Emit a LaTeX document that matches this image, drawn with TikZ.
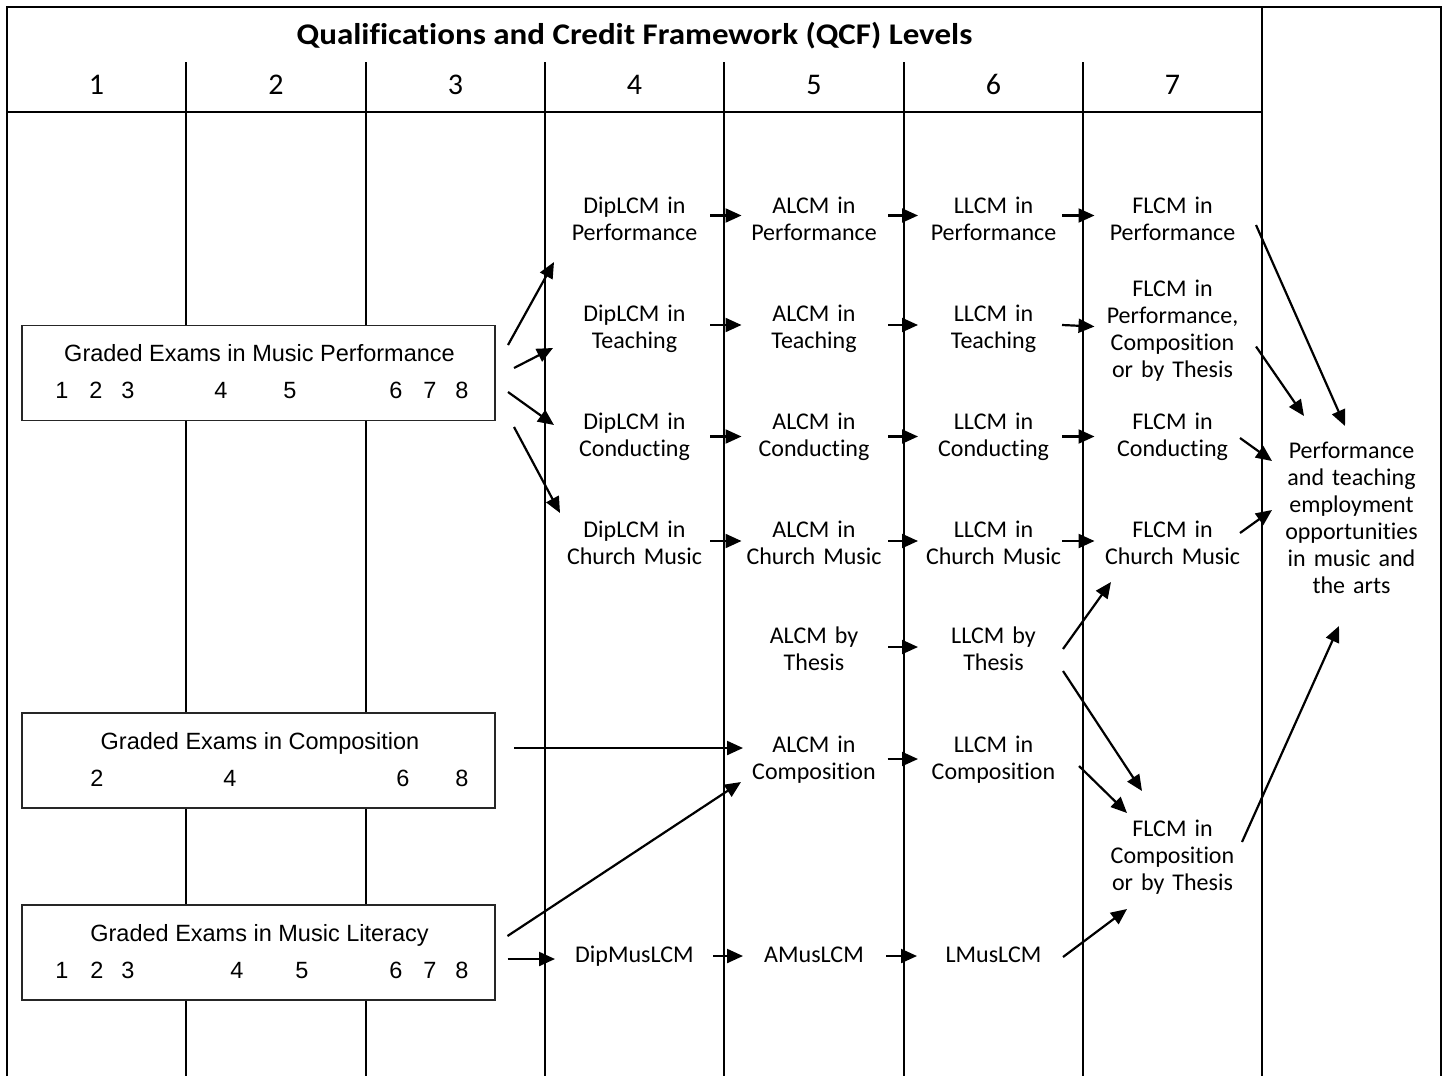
\documentclass[tikz,border=0pt]{standalone}
\usepackage{fontspec}
\usepackage{graphicx}
\setmainfont{Carlito}[Ligatures=NoCommon]
\newfontfamily\arialf{Liberation Sans}
\usetikzlibrary{arrows.meta,calc}
\begin{document}
\begin{tikzpicture}[x=1pt,y=-1pt,
  grid/.style={line width=2pt},
  arr/.style={line width=2.2pt,-{Triangle[length=16pt,width=14pt]}},
  lvl/.style={text width=150pt,align=center,inner sep=0pt,font=\fontsize{24}{27}\selectfont},
  exbox/.style={draw=black!85,line width=1.6pt,fill=white,minimum width=473pt,minimum height=95pt,inner sep=0pt},
  extext/.style={inner sep=0pt,anchor=base,font=\arialf\fontsize{23.5}{27}\selectfont},
  colnum/.style={inner sep=0pt,anchor=base,font=\fontsize{30}{34}\selectfont}]
\useasboundingbox (0,0) rectangle (1447,1076);
\fill[white] (0,0) rectangle (1447,1076);
% frame and grid
\draw[grid] (7,1076) -- (7,7) -- (1441,7) -- (1441,1076);
\draw[grid] (1262,7) -- (1262,1076);
\draw[grid] (7,112) -- (1262,112);
\foreach \x in {186,366,545,724,904,1083} \draw[grid] (\x,62) -- (\x,1076);
% header
\node[inner sep=0pt,anchor=base,font=\fontsize{30}{34}\selectfont\bfseries] (title) at (634.5,44.5)
  {\scalebox{1.1}[1]{Qualifications and Credit Framework (QCF) Levels}};
\foreach \n/\x in {1/96.5,2/276,3/455.5,4/634.5,5/814,6/993.5,7/1172.5}
  \node[colnum] (c\n) at (\x,94.5) {\n};
% exam boxes
\node[exbox] (b1) at (258.5,373) {};
\node[exbox] (b2) at (258.5,760.5) {};
\node[exbox] (b3) at (258.5,952.5) {};
\node[extext] (b1t) at (259.5,361) {Graded Exams in Music Performance};
\node[extext] (b2t) at (260,749) {Graded Exams in Composition};
\node[extext] (b3t) at (259.5,941) {Graded Exams in Music Literacy};
\foreach \d/\x in {1/62,2/96,3/128,4/221,5/290,6/396,7/430,8/462}
  \node[extext] (b1d\d) at (\x,398) {\d};
\foreach \d/\x in {2/97,4/230,6/403,8/462}
  \node[extext] (b2d\d) at (\x,786) {\d};
\foreach \d/\x in {1/62,2/97,3/128,4/237,5/302,6/396,7/430,8/462}
  \node[extext] (b3d\d) at (\x,978) {\d};
% level nodes
\node[lvl] (dip1) at (634.5,222) {\strut DipLCM in\\Performance\strut};
\node[lvl] (a1)   at (814,222)   {\strut ALCM in\\Performance\strut};
\node[lvl] (l1)   at (993.5,222) {\strut LLCM in\\Performance\strut};
\node[lvl] (f1)   at (1172.5,222) {\strut FLCM in\\Performance\strut};
\node[lvl] (dip2) at (634.5,330) {\strut DipLCM in\\Teaching\strut};
\node[lvl] (a2)   at (814,330)   {\strut ALCM in\\Teaching\strut};
\node[lvl] (l2)   at (993.5,330) {\strut LLCM in\\Teaching\strut};
\node[lvl] (f2)   at (1172.5,331.5) {\strut FLCM in\\Performance,\\Composition\\or by Thesis\strut};
\node[lvl] (dip3) at (634.5,438) {\strut DipLCM in\\Conducting\strut};
\node[lvl] (a3)   at (814,438)   {\strut ALCM in\\Conducting\strut};
\node[lvl] (l3)   at (993.5,438) {\strut LLCM in\\Conducting\strut};
\node[lvl] (f3)   at (1172.5,438) {\strut FLCM in\\Conducting\strut};
\node[lvl] (dip4) at (634.5,546) {\strut DipLCM in\\Church Music\strut};
\node[lvl] (a4)   at (814,546)   {\strut ALCM in\\Church Music\strut};
\node[lvl] (l4)   at (993.5,546) {\strut LLCM in\\Church Music\strut};
\node[lvl] (f4)   at (1172.5,546) {\strut FLCM in\\Church Music\strut};
\node[lvl] (at)   at (814,652)   {\strut ALCM by\\Thesis\strut};
\node[lvl] (lt)   at (993.5,652) {\strut LLCM by\\Thesis\strut};
\node[lvl] (ac)   at (814,761)   {\strut ALCM in\\Composition\strut};
\node[lvl] (lc)   at (993.5,761) {\strut LLCM in\\Composition\strut};
\node[lvl] (fc)   at (1172.5,858) {\strut FLCM in\\Composition\\or by Thesis\strut};
\node[lvl] (dm)   at (634.5,957) {\strut DipMusLCM\strut};
\node[lvl] (am)   at (814,957)   {\strut AMusLCM\strut};
\node[lvl] (lm)   at (993.5,957) {\strut LMusLCM\strut};
\node[lvl] (out)  at (1351.5,521) {\strut Performance\\and teaching\\employment\\opportunities\\in music and\\the arts\strut};
% row arrows
\foreach \r/\dy in {1/-6.5,2/-5,3/-1.5,4/-5}{
  \draw[arr] ([shift={(75.5,\dy)}]dip\r.center) -- ([shift={(-72.5,\dy)}]a\r.center);
  \draw[arr] ([shift={(74,\dy)}]a\r.center) -- ([shift={(-75.5,\dy)}]l\r.center);
  \draw[arr] ([shift={(68.5,\dy)}]l\r.center) -- ([shift={(-78,\dy)}]f\r.center);
}
\draw[arr] ([shift={(74,-5)}]at.center) -- ([shift={(-75.5,-5)}]lt.center);
\draw[arr] ([shift={(73.5,-2)}]ac.center) -- ([shift={(-75.5,-2)}]lc.center);
\draw[arr] ([shift={(78.5,-1)}]dm.center) -- ([shift={(-71,-1)}]am.center);
\draw[arr] ([shift={(72,-1)}]am.center) -- ([shift={(-76.5,-1)}]lm.center);
% from exam boxes
\draw[arr] ([shift={(249.5,-28)}]b1.center) -- ([shift={(-80.5,40)}]dip1.center);
\draw[arr] ([shift={(255.5,-5)}]b1.center) -- ([shift={(-81.5,18)}]dip2.center);
\draw[arr] ([shift={(249.5,19)}]b1.center) -- ([shift={(-80.5,-13)}]dip3.center);
\draw[arr] ([shift={(255.5,54)}]b1.center) -- ([shift={(-74.5,-33)}]dip4.center);
\draw[arr] ([shift={(255.5,-12.5)}]b2.center) -- ([shift={(-71,-13)}]ac.center);
\draw[arr] ([shift={(249,-16.5)}]b3.center) -- ([shift={(-73,21)}]ac.center);
\draw[arr] ([shift={(249,6.5)}]b3.center) -- ([shift={(-79.5,2)}]dm.center);
% towards level 7 and beyond
\draw[arr] ([shift={(69.5,-3)}]lt.center) -- ([shift={(-61.5,36)}]f4.center);
\draw[arr] ([shift={(69.5,19)}]lt.center) -- ([shift={(-30.5,-67)}]fc.center);
\draw[arr] ([shift={(85.5,5)}]lc.center) -- ([shift={(-45.5,-45)}]fc.center);
\draw[arr] ([shift={(69.5,0)}]lm.center) -- ([shift={(-45.5,51)}]fc.center);
\draw[arr] ([shift={(83.5,3)}]f1.center) -- ([shift={(-6.5,-95)}]out.center);
\draw[arr] ([shift={(83.5,15)}]f2.center) -- ([shift={(-47.5,-105)}]out.center);
\draw[arr] ([shift={(67.5,0)}]f3.center) -- ([shift={(-79.5,-60)}]out.center);
\draw[arr] ([shift={(67.5,-13)}]f4.center) -- ([shift={(-79.5,-11)}]out.center);
\draw[arr] ([shift={(69.5,-16)}]fc.center) -- ([shift={(-12.5,105)}]out.center);
\end{tikzpicture}
\end{document}
